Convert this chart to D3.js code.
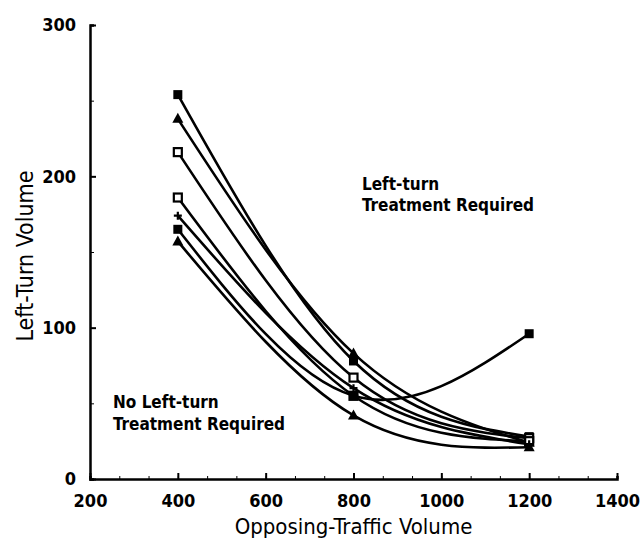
<!DOCTYPE html>
<html>
<head>
<meta charset="utf-8">
<script src="https://cdn.jsdelivr.net/npm/d3@7"></script>
<style>
  body { margin: 0; background: #fff; }
  svg text { font-family: "DejaVu Sans", sans-serif; font-stretch: condensed; fill: #000; }
  .axis path, .axis line { stroke: #000; }
</style>
</head>
<body>
<div id="chart"></div>
<script>
// opposing-traffic volumes where each curve was measured
const xValues = [400, 800, 1200];

// one series per curve: left-turn volume at 400 / 800 / 1200
const seriesA = [254, 78, 28];
const seriesB = [238, 83, 24];
const seriesC = [216, 67, 27];
const seriesD = [186, 55, 25];
const seriesE = [174, 60, 23];
const seriesF = [165, 55, 96];
const seriesG = [157, 42, 21];

const seriesList = [seriesA, seriesB, seriesC, seriesD, seriesE, seriesF, seriesG];
const markerKinds = ["fsquare", "ftriangle", "osquare", "osquare", "plus", "fsquare", "ftriangle"];

const xMajorTicks = [200, 400, 600, 800, 1000, 1200, 1400];
const yMajorTicks = [0, 100, 200, 300];
const yMinorTicks = [50, 150, 250];

const width = 644, height = 542;

const svg = d3.select("#chart").append("svg")
  .attr("width", width).attr("height", height);

const x = d3.scaleLinear().domain([200, 1400]).range([90, 617]);
const y = d3.scaleLinear().domain([0, 300]).range([479, 25]);

/* x axis */
const xMinor = d3.range(200, 1401, 200 / 3).map(v => Math.round(v * 10) / 10);
svg.append("g")
  .attr("class", "axis")
  .attr("transform", "translate(0," + y(0) + ")")
  .call(d3.axisBottom(x).tickValues(xMinor).tickSize(-3).tickFormat(""))
  .call(g => g.select(".domain").attr("stroke-width", 2.5));

svg.append("g")
  .attr("class", "axis")
  .attr("transform", "translate(0," + y(0) + ")")
  .call(d3.axisBottom(x).tickValues(xMajorTicks).tickSize(-6).tickPadding(15).tickFormat(d3.format("d")))
  .call(g => g.select(".domain").remove())
  .call(g => g.selectAll("line").attr("stroke-width", 2))
  .call(g => g.selectAll("text").attr("font-size", 18).attr("font-weight", "bold"));

/* y axis */
svg.append("g")
  .attr("class", "axis")
  .attr("transform", "translate(" + x(200) + ",0)")
  .call(d3.axisLeft(y).tickValues(yMinorTicks).tickSize(-4).tickFormat(""))
  .call(g => g.select(".domain").attr("stroke-width", 2.5));

svg.append("g")
  .attr("class", "axis")
  .attr("transform", "translate(" + x(200) + ",0)")
  .call(d3.axisLeft(y).tickValues(yMajorTicks).tickSize(-6).tickPadding(14))
  .call(g => g.select(".domain").remove())
  .call(g => g.selectAll("line").attr("stroke-width", 2))
  .call(g => g.selectAll("text").attr("font-size", 18).attr("font-weight", "bold"));

/* axis titles */
svg.append("text")
  .attr("x", (x(200) + x(1400)) / 2)
  .attr("y", 534)
  .attr("text-anchor", "middle")
  .attr("font-size", 22)
  .text("Opposing-Traffic Volume");

svg.append("text")
  .attr("transform", "translate(33," + 256 + ") rotate(-90)")
  .attr("text-anchor", "middle")
  .attr("font-size", 23)
  .text("Left-Turn Volume");

/* region notes */
const note1 = svg.append("text").attr("font-size", 17).attr("font-weight", "bold");
note1.append("tspan").attr("x", 362).attr("y", 190).text("Left-turn");
note1.append("tspan").attr("x", 362).attr("y", 211).text("Treatment Required");

const note2 = svg.append("text").attr("font-size", 17).attr("font-weight", "bold");
note2.append("tspan").attr("x", 113).attr("y", 408).text("No Left-turn");
note2.append("tspan").attr("x", 113).attr("y", 430).text("Treatment Required");

/* curves */
const line = d3.line()
  .x((d, i) => x(xValues[i]))
  .y(d => y(d))
  .curve(d3.curveNatural);

svg.append("g").selectAll("path")
  .data(seriesList)
  .join("path")
  .attr("d", line)
  .attr("fill", "none")
  .attr("stroke", "#000")
  .attr("stroke-width", 2.6);

/* markers */
const markerGroup = svg.append("g");
seriesList.forEach((s, si) => {
  const kind = markerKinds[si];
  s.forEach((v, i) => {
    const cx = x(xValues[i]), cy = y(v);
    if (kind === "fsquare") {
      markerGroup.append("rect").attr("x", cx - 4.5).attr("y", cy - 4.5)
        .attr("width", 9).attr("height", 9).attr("fill", "#000");
    } else if (kind === "osquare") {
      markerGroup.append("rect").attr("x", cx - 4).attr("y", cy - 4)
        .attr("width", 8).attr("height", 8).attr("fill", "#fff")
        .attr("stroke", "#000").attr("stroke-width", 2.2);
    } else if (kind === "ftriangle") {
      markerGroup.append("path")
        .attr("d", `M${cx},${cy - 6}L${cx + 5.5},${cy + 4}L${cx - 5.5},${cy + 4}Z`)
        .attr("fill", "#000");
    } else if (kind === "plus") {
      markerGroup.append("path")
        .attr("d", `M${cx - 4},${cy}H${cx + 4}M${cx},${cy - 4}V${cy + 4}`)
        .attr("stroke", "#000").attr("stroke-width", 2.2);
    }
  });
});
</script>
</body>
</html>
